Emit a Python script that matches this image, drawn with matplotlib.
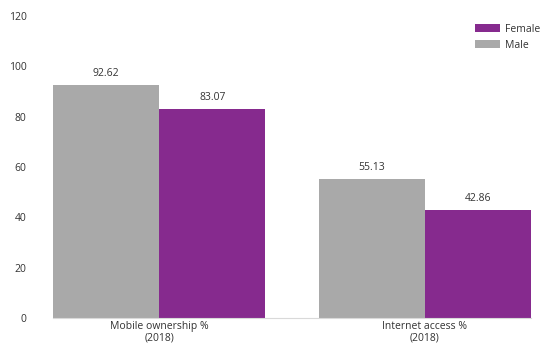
import matplotlib
matplotlib.use('Agg')

import matplotlib.pyplot as plt
import numpy as np

plt.rcParams['font.family'] = ['Open Sans', 'DejaVu Sans']

categories = ['Mobile ownership %\n(2018)', 'Internet access %\n(2018)']
male = [92.62, 55.13]
female = [83.07, 42.86]

grey = '#a9a9a9'
purple = '#862a8e'

fig = plt.figure(figsize=(5.47, 3.43), dpi=100)
ax = fig.add_axes([53 / 547, 1 - 318 / 343, 478 / 547, 302 / 343])

x = np.arange(len(categories))
w = 0.4
bars_m = ax.bar(x - w / 2, male, w, color=grey, label='Male')
bars_f = ax.bar(x + w / 2, female, w, color=purple, label='Female')

# value labels above each bar
for bars in (bars_m, bars_f):
    for b in bars:
        ax.text(b.get_x() + b.get_width() / 2, b.get_height() + 2.5,
                '{:.2f}'.format(b.get_height()), ha='center', va='bottom',
                fontsize=7.5, color='#333333')

ax.set_xlim(-0.4, 1.4)
ax.set_ylim(0, 120)
ax.set_yticks(range(0, 121, 20))
ax.set_xticks(x)
ax.set_xticklabels(categories, fontsize=7.5, color='#333333', linespacing=1.1)
ax.tick_params(axis='y', length=0, pad=19, labelsize=7.5, labelcolor='#333333')
ax.tick_params(axis='x', length=0, pad=2)
for s in ('top', 'right', 'left'):
    ax.spines[s].set_visible(False)
ax.spines['bottom'].set_color('#d9d9d9')

handles = [bars_f, bars_m]
ax.legend(handles, ['Female', 'Male'], loc='upper right', frameon=False,
          fontsize=7.5, handlelength=2.4, handleheight=0.8, labelspacing=0.45,
          handletextpad=0.5, bbox_to_anchor=(1.04, 1.005), labelcolor='#333333')

plt.savefig('out.png', dpi=100)
plt.close()
